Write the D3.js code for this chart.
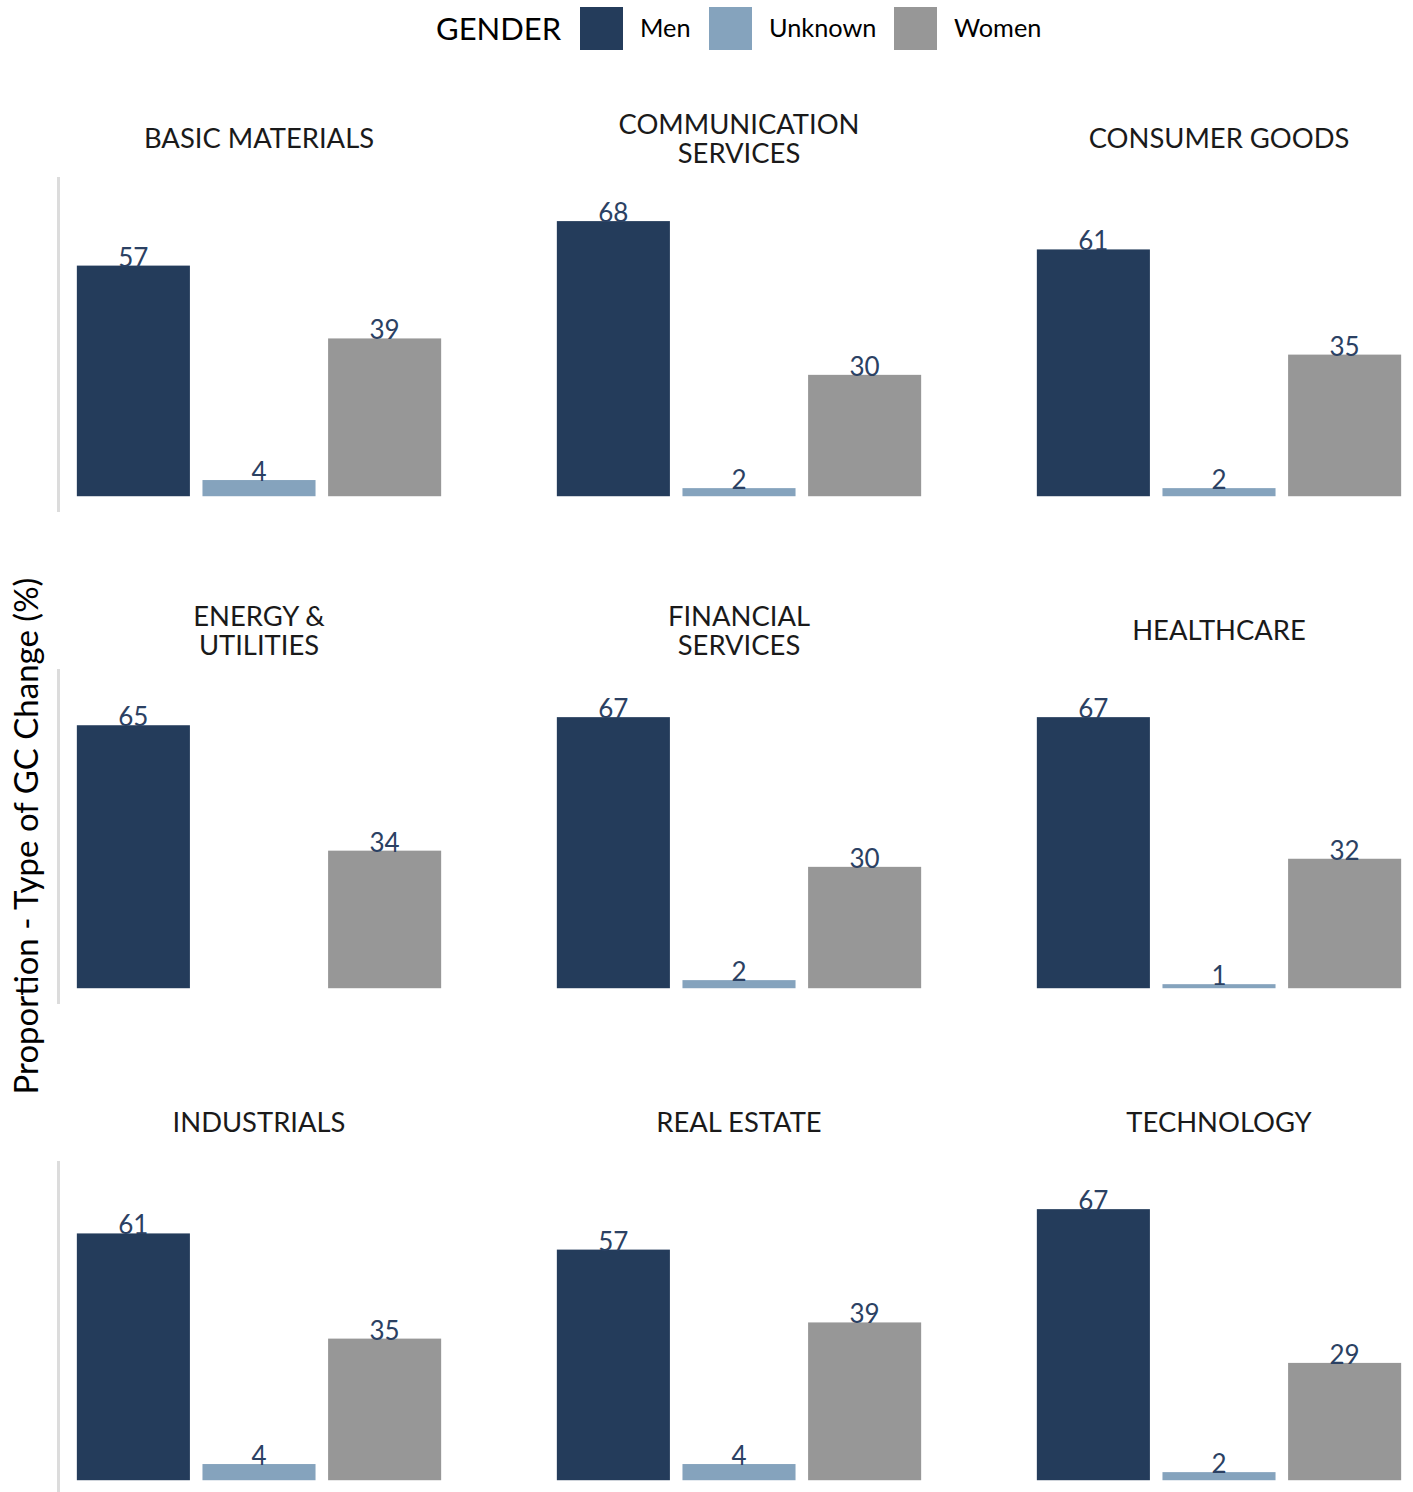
<!DOCTYPE html>
<html>
<head>
<meta charset="utf-8">
<script src="https://cdn.jsdelivr.net/npm/d3@7"></script>
<style>
  body { margin: 0; background: #fff; }
  svg { font-family: Lato, "Open Sans", sans-serif; }
</style>
</head>
<body>
<svg width="1413" height="1492"></svg>
<script>
// Data
const sectors = [
    ["BASIC MATERIALS"],
    ["COMMUNICATION", "SERVICES"],
    ["CONSUMER GOODS"],
    ["ENERGY &", "UTILITIES"],
    ["FINANCIAL", "SERVICES"],
    ["HEALTHCARE"],
    ["INDUSTRIALS"],
    ["REAL ESTATE"],
    ["TECHNOLOGY"]
];
const genders = ["Men", "Unknown", "Women"];
const menValues = [57, 68, 61, 65, 67, 67, 61, 57, 67];
const unknownValues = [4, 2, 2, null, 2, 1, 4, 4, 2];
const womenValues = [39, 30, 35, 34, 30, 32, 35, 39, 29];
const colours = ["#243c5b", "#85a3bd", "#979797"];

var svg = d3.select("svg");

// Layout of the facet grid
var panelLeft = 58, panelWidth = 402, colStep = 480;
var panelTop = 177, panelHeight = 335, rowStep = 492;

var colour = d3.scaleOrdinal().domain(genders).range(colours);

// Legend
var legend = svg.append("g");
legend.append("text")
    .attr("x", 436)
    .attr("y", 40)
    .attr("font-size", "31px")
    .attr("fill", "#000")
    .text("GENDER");
var legendX = [580, 709, 894];
genders.forEach(function (gname, i) {
    legend.append("rect")
        .attr("x", legendX[i])
        .attr("y", 7)
        .attr("width", 43)
        .attr("height", 43)
        .attr("fill", colour(gname));
    legend.append("text")
        .attr("x", legendX[i] + 60)
        .attr("y", 37)
        .attr("font-size", "25.3px")
        .attr("fill", "#000")
        .text(gname);
});

// Y axis title
svg.append("text")
    .attr("transform", "translate(38," + 836 + ") rotate(-90)")
    .attr("text-anchor", "middle")
    .attr("font-size", "33px")
    .attr("fill", "#000")
    .text("Proportion - Type of GC Change (%)");

// Panels
sectors.forEach(function (title, i) {
    var col = i % 3, row = Math.floor(i / 3);
    var left = panelLeft + col * colStep;
    var top = panelTop + row * rowStep;

    var x = d3.scaleBand()
        .domain(genders)
        .range([left, left + panelWidth])
        .paddingInner(0.1)
        .paddingOuter(0.15);
    var y = d3.scaleLinear()
        .domain([-3.9, 78.9])
        .range([top + panelHeight, top]);

    var data = [
        { gender: "Men", value: menValues[i] },
        { gender: "Unknown", value: unknownValues[i] },
        { gender: "Women", value: womenValues[i] }
    ].filter(function (d) { return d.value != null; });

    var g = svg.append("g");

    // axis line, only on the first column
    if (col == 0) {
        g.append("line")
            .attr("x1", left + 0.5)
            .attr("x2", left + 0.5)
            .attr("y1", top)
            .attr("y2", top + panelHeight)
            .attr("stroke", "#dcdcdc")
            .attr("stroke-width", 3);
    }

    // strip title (one or two lines)
    title.forEach(function (line, j) {
        var base = title.length == 1 ? top - 29 : top - 43 + j * 29;
        g.append("text")
            .attr("x", left + panelWidth / 2)
            .attr("y", base)
            .attr("text-anchor", "middle")
            .attr("font-size", "27.4px")
            .attr("fill", "#1a1a1a")
            .text(line);
    });

    g.selectAll(".bar")
        .data(data)
        .enter().append("rect")
        .attr("class", "bar")
        .attr("x", function (d) { return x(d.gender); })
        .attr("y", function (d) { return y(d.value); })
        .attr("width", x.bandwidth())
        .attr("height", function (d) { return y(0) - y(d.value); })
        .attr("fill", function (d) { return colour(d.gender); });

    g.selectAll(".val")
        .data(data)
        .enter().append("text")
        .attr("class", "val")
        .attr("x", function (d) { return x(d.gender) + x.bandwidth() / 2; })
        .attr("y", function (d) { return y(d.value) + 1; })
        .attr("text-anchor", "middle")
        .attr("font-size", "26px")
        .attr("fill", "#2b4163")
        .text(function (d) { return d.value; });
});
</script>
</body>
</html>
